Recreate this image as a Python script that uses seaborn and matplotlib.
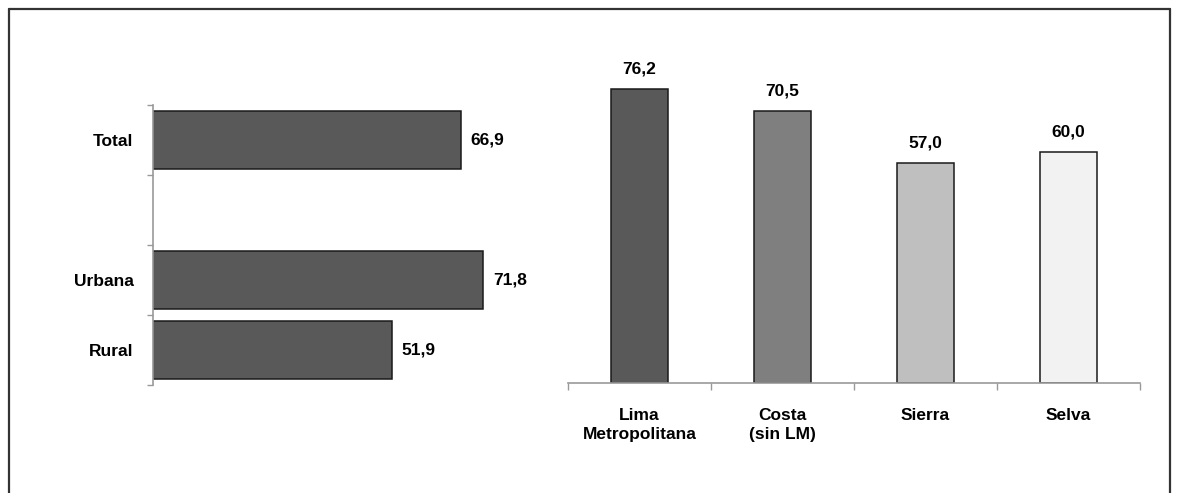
import numpy as np
import pandas as pd
import seaborn as sns
import matplotlib.pyplot as plt
from matplotlib.lines import Line2D

# data
area_labels = ["Total", " ", "Urbana", "Rural"]
area_values = [66.9, np.nan, 71.8, 51.9]

region_labels = ["Lima\nMetropolitana", "Costa\n(sin LM)", "Sierra", "Selva"]
region_values = [76.2, 70.5, 57.0, 60.0]
region_colors = ["#595959", "#7f7f7f", "#bfbfbf", "#f2f2f2"]

sns.set_theme(style="white")
plt.rcParams['font.family'] = ['Liberation Sans', 'DejaVu Sans']
plt.rcParams['font.weight'] = 'bold'
plt.rcParams['text.color'] = 'black'
plt.rcParams['xtick.color'] = 'black'
plt.rcParams['ytick.color'] = 'black'

fmt = lambda v: f"{v:.1f}".replace(".", ",")
FS = 12.5

fig = plt.figure(figsize=(11.79, 4.93), dpi=100)

# outer frame (left, top, right)
for xs, ys in [([9/1179, 9/1179], [0, 1 - 9/493]),
               ([9/1179, 1170/1179], [1 - 9/493, 1 - 9/493]),
               ([1170/1179, 1170/1179], [0, 1 - 9/493])]:
    fig.add_artist(Line2D(xs, ys, transform=fig.transFigure, color="#333333", lw=1.6))

# ---- left panel: horizontal bars
ax1 = fig.add_axes([153/1179, 1 - 385/493, 368/1179, 280/493])
df1 = pd.DataFrame({"area": area_labels, "valor": area_values}).dropna()
sns.barplot(data=df1, x="valor", y="area", order=area_labels, orient="h",
            color="#595959", saturation=1, width=0.84, edgecolor="#1a1a1a",
            linewidth=1.1, ax=ax1)
ax1.set_xlim(0, 80)
ax1.set_ylim(3.5, -0.5)
ax1.set_xlabel("")
ax1.set_ylabel("")
ax1.set_xticks([])
ax1.set_yticks(range(4))
ax1.set_yticklabels(area_labels, fontsize=FS, fontweight="bold")
ax1.set_yticks(np.arange(-0.5, 4, 1), minor=True)
ax1.tick_params(axis="y", which="major", length=0, pad=14)
ax1.tick_params(axis="y", which="minor", length=4, width=1, color="#999999", direction="out", left=True)
for s in ["top", "right", "bottom"]:
    ax1.spines[s].set_visible(False)
ax1.spines["left"].set_color("#999999")
ax1.spines["left"].set_linewidth(1.2)
for c in ax1.containers:
    ax1.bar_label(c, labels=[fmt(v) for v in c.datavalues],
                  padding=7, fontsize=FS, fontweight="bold")

# ---- right panel: vertical bars
ax2 = fig.add_axes([568/1179, 1 - 383/493, 572/1179, 308.6/493])
df2 = pd.DataFrame({"region": region_labels, "valor": region_values})
sns.barplot(data=df2, x="region", y="valor", hue="region", palette=region_colors,
            saturation=1, width=0.4, edgecolor="#1a1a1a", linewidth=1.1,
            legend=False, ax=ax2)
ax2.set_ylim(0, 80)
ax2.set_xlim(-0.5, 3.5)
ax2.set_xlabel("")
ax2.set_ylabel("")
ax2.set_yticks([])
ax2.set_xticks(range(4))
ax2.set_xticklabels(region_labels, fontsize=FS, fontweight="bold", linespacing=1.3)
ax2.set_xticks(np.arange(-0.5, 4, 1), minor=True)
ax2.tick_params(axis="x", which="major", length=0, pad=18)
ax2.tick_params(axis="x", which="minor", length=5, width=1, color="#999999", direction="out", bottom=True)
for s in ["top", "right", "left"]:
    ax2.spines[s].set_visible(False)
ax2.spines["bottom"].set_color("#999999")
ax2.spines["bottom"].set_linewidth(1.2)
for c in ax2.containers:
    ax2.bar_label(c, labels=[fmt(v) for v in c.datavalues],
                  padding=9, fontsize=FS, fontweight="bold")

fig.savefig("out.png", dpi=100)
